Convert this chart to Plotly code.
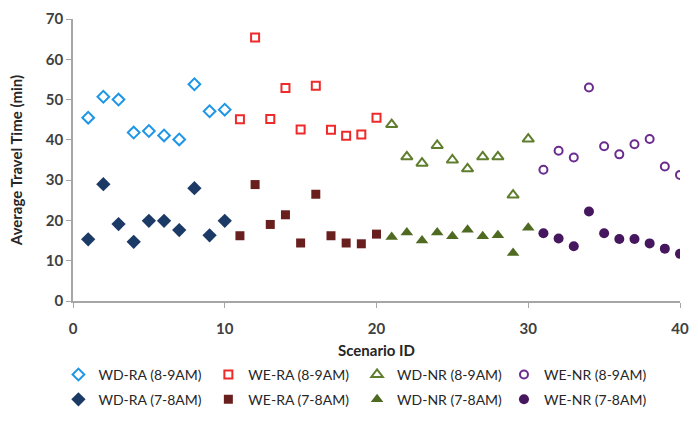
import plotly.graph_objects as go

scenario_wd_ra = list(range(1, 11))
scenario_we_ra = list(range(11, 21))
scenario_wd_nr = list(range(21, 31))
scenario_we_nr = list(range(31, 41))

wd_ra_89 = [45.5, 50.7, 50.0, 41.8, 42.2, 41.1, 40.1, 53.8, 47.1, 47.5]
wd_ra_78 = [15.3, 29.0, 19.1, 14.7, 19.9, 19.9, 17.6, 28.0, 16.3, 19.9]
we_ra_89 = [45.1, 65.4, 45.2, 52.9, 42.6, 53.4, 42.5, 41.0, 41.3, 45.5]
we_ra_78 = [16.2, 28.9, 19.0, 21.4, 14.4, 26.5, 16.2, 14.4, 14.2, 16.6]
wd_nr_89 = [43.8, 35.8, 34.2, 38.6, 35.0, 32.8, 35.8, 35.8, 26.3, 40.2]
wd_nr_78 = [15.9, 17.0, 15.0, 17.0, 16.1, 17.7, 16.1, 16.3, 11.9, 18.2]
we_nr_89 = [32.6, 37.3, 35.6, 53.0, 38.4, 36.4, 38.9, 40.2, 33.4, 31.3]
we_nr_78 = [16.8, 15.5, 13.6, 22.2, 16.8, 15.4, 15.4, 14.3, 13.0, 11.7]

x_ticks = [0, 10, 20, 30, 40]
y_ticks = [0, 10, 20, 30, 40, 50, 60, 70]

FONT = "Lato"
fig = go.Figure()

# legend placement (paper coords): columns and rows
col_x = [-0.024, 0.223, 0.468, 0.71]
row_y = [-0.262, -0.350]

series = [
    (scenario_wd_ra, wd_ra_89, "WD-RA (8-9AM)", "diamond-open", "#1E96E6", 9, True),
    (scenario_we_ra, we_ra_89, "WE-RA (8-9AM)", "square-open", "#EE2A2A", 8, True),
    (scenario_wd_nr, wd_nr_89, "WD-NR (8-9AM)", "triangle-up-open", "#5E7E2E", 10, True),
    (scenario_we_nr, we_nr_89, "WE-NR (8-9AM)", "circle-open", "#6A2C8E", 8, True),
    (scenario_wd_ra, wd_ra_78, "WD-RA (7-8AM)", "diamond", "#1C3A66", 11, False),
    (scenario_we_ra, we_ra_78, "WE-RA (7-8AM)", "square", "#6A1F1F", 9, False),
    (scenario_wd_nr, wd_nr_78, "WD-NR (7-8AM)", "triangle-up", "#4F6B22", 11, False),
    (scenario_we_nr, we_nr_78, "WE-NR (7-8AM)", "circle", "#46165F", 10, False),
]

legends = {}
for i, (x, y, name, symbol, color, size, open_) in enumerate(series):
    key = "legend" if i == 0 else f"legend{i + 1}"
    marker = dict(symbol=symbol, size=size, color=color,
                  line=dict(color=color, width=2 if open_ else 0))
    fig.add_trace(go.Scatter(x=x, y=y, name=name, mode="markers",
                             marker=marker, legend=key))
    legends[key] = dict(orientation="h", xref="paper", yref="paper",
                        x=col_x[i % 4], y=row_y[i // 4],
                        xanchor="left", yanchor="middle",
                        font=dict(family=FONT, size=14, color="#262626"),
                        itemwidth=30, bgcolor="rgba(0,0,0,0)")

fig.update_layout(
    width=698, height=425,
    margin=dict(l=73, r=9, t=19, b=110.5),
    paper_bgcolor="white", plot_bgcolor="white",
    font=dict(family=FONT, size=14, color="#404040"),
    showlegend=True,
    xaxis=dict(range=[0, 40], tickvals=x_ticks, ticktext=[str(v) for v in x_ticks],
               showgrid=False, zeroline=False, showline=True, linecolor="#A6A6A6",
               linewidth=1.5, ticks="outside", ticklen=5, tickcolor="#A6A6A6",
               ticklabelstandoff=8,
               tickfont=dict(family=FONT, size=15, color="#404040", weight="bold"),
               title=dict(text="<b>Scenario ID</b>", font=dict(family=FONT, size=15, color="#262626"),
                          standoff=10)),
    yaxis=dict(range=[0, 70], tickvals=y_ticks, ticktext=[str(v) for v in y_ticks],
               showgrid=False, zeroline=False, showline=True, linecolor="#A6A6A6",
               linewidth=1.5, ticks="outside", ticklen=5, tickcolor="#A6A6A6",
               tickfont=dict(family=FONT, size=15, color="#404040", weight="bold"),
               title=dict(text="<b>Average Travel Time (min)</b>",
                          font=dict(family=FONT, size=15, color="#262626"), standoff=20)),
    **legends,
)

fig.write_html("out.html", config={"displayModeBar": False},
               post_script="document.body.style.margin='0';document.body.style.overflow='hidden';")
